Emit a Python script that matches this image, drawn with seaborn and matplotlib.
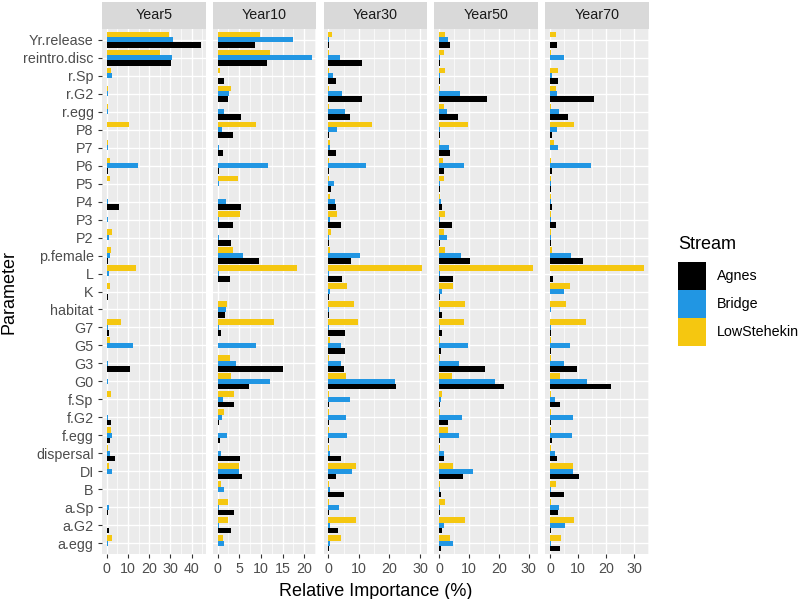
import pandas as pd
import matplotlib
matplotlib.use('Agg')
import matplotlib.pyplot as plt
from matplotlib.patches import Patch, Rectangle
from matplotlib.ticker import MultipleLocator
import seaborn as sns

# parameters, top to bottom
params = ['Yr.release', 'reintro.disc', 'r.Sp', 'r.G2', 'r.egg', 'P8', 'P7', 'P6',
          'P5', 'P4', 'P3', 'P2', 'p.female', 'L', 'K', 'habitat', 'G7', 'G5', 'G3',
          'G0', 'f.Sp', 'f.G2', 'f.egg', 'dispersal', 'DI', 'B', 'a.Sp', 'a.G2', 'a.egg']
years = ['Year5', 'Year10', 'Year30', 'Year50', 'Year70']
streams = ['Agnes', 'Bridge', 'LowStehekin']

# relative importance (%)
agnes5 = [44.4, 30.5, 0.3, 0.2, 0.2, 0.3, 0.3, 0.6, 0.2, 5.6, 0.2, 0.3, 0.8, 0.2,
          0.5, 0.2, 1.3, 0.2, 10.8, 0.2, 0.2, 1.9, 1.7, 4.0, 0.3, 0.2, 0.5, 1.3, 0.2]
bridge5 = [31.4, 30.6, 2.7, 0.5, 0.5, 0.3, 0.8, 14.6, 0.3, 0.5, 0.5, 1.1, 1.6, 1.0,
           0.2, 0.3, 0.6, 12.4, 0.5, 0.8, 0.3, 0.5, 2.5, 1.4, 2.7, 0.3, 1.0, 0.3, 0.5]
low5 = [29.4, 25.2, 1.9, 0.5, 0.5, 10.5, 0.8, 1.4, 1.6, 0.3, 0.3, 2.4, 1.9, 14.0,
        1.4, 0.3, 6.7, 1.4, 0.3, 0.3, 1.9, 0.3, 2.2, 0.5, 1.0, 0.3, 0.3, 0.3, 2.7]

agnes10 = [8.7, 11.3, 1.4, 2.5, 5.4, 3.6, 1.2, 0.3, 0.2, 5.3, 3.6, 3.0, 9.6, 2.8,
           0.2, 1.8, 0.7, 0.2, 15.0, 7.2, 3.8, 0.3, 0.6, 5.2, 5.6, 0.2, 3.8, 3.2, 0.2]
bridge10 = [17.5, 21.7, 0.2, 2.6, 1.5, 1.1, 0.3, 11.7, 0.3, 2.0, 0.3, 0.3, 5.8, 0.3,
            0.2, 2.0, 0.3, 8.8, 4.3, 12.2, 1.3, 1.0, 2.2, 0.9, 5.0, 1.6, 0.3, 0.3, 1.5]
low10 = [9.8, 12.0, 0.6, 3.0, 0.2, 8.8, 0.2, 0.2, 4.7, 0.2, 5.2, 0.2, 3.5, 18.4,
         0.2, 2.2, 13.1, 0.2, 2.9, 3.2, 3.8, 1.5, 0.2, 0.2, 4.9, 0.8, 2.5, 2.5, 1.2]

agnes30 = [0.3, 11.1, 2.4, 11.1, 7.1, 0.3, 2.4, 0.3, 1.0, 2.4, 4.2, 0.3, 7.3, 4.6,
           0.3, 0.3, 5.4, 5.5, 5.0, 22.2, 0.3, 0.3, 0.3, 4.1, 2.6, 5.1, 0.3, 3.2, 0.3]
bridge30 = [0.3, 3.9, 1.4, 4.5, 5.5, 2.7, 0.5, 12.2, 2.0, 2.3, 0.4, 0.3, 10.3, 0.3,
            0.4, 0.3, 0.3, 4.0, 4.0, 21.8, 7.1, 5.8, 6.2, 0.4, 7.6, 0.4, 3.6, 0.4, 0.4]
low30 = [1.3, 0.3, 0.3, 0.3, 0.3, 14.3, 0.5, 0.3, 0.3, 0.5, 3.0, 1.0, 0.5, 30.8,
         6.0, 8.4, 9.8, 0.7, 0.3, 5.7, 0.3, 0.3, 0.3, 0.3, 9.2, 0.3, 0.3, 9.1, 4.3]

agnes50 = [3.8, 0.3, 0.2, 16.1, 6.3, 0.2, 3.5, 1.6, 0.2, 0.8, 4.4, 0.3, 10.4, 4.6,
           0.3, 1.0, 1.0, 0.6, 15.4, 21.8, 0.3, 2.9, 0.2, 1.5, 7.9, 0.7, 0.3, 1.0, 0.6]
bridge50 = [3.1, 0.2, 0.2, 7.1, 2.8, 0.4, 3.4, 8.5, 0.3, 0.6, 0.3, 2.6, 7.5, 0.4,
            1.0, 0.3, 0.4, 9.6, 6.5, 18.7, 0.7, 7.8, 6.5, 1.7, 11.5, 0.4, 0.3, 1.8, 4.5]
low50 = [1.9, 1.5, 1.9, 0.3, 1.8, 9.8, 0.3, 1.2, 1.5, 0.2, 1.9, 1.8, 2.1, 31.6,
         4.8, 8.7, 8.4, 0.4, 0.3, 4.2, 1.1, 0.3, 3.0, 0.3, 4.5, 0.3, 2.1, 8.7, 3.5]

agnes70 = [2.6, 0.1, 3.0, 15.7, 6.3, 0.8, 0.1, 0.8, 0.2, 0.8, 2.3, 0.5, 11.7, 1.2,
           0.1, 0.1, 0.2, 0.2, 9.5, 21.7, 3.7, 0.2, 0.7, 2.6, 10.4, 4.9, 2.7, 0.2, 3.7]
bridge70 = [0.1, 5.0, 0.7, 2.6, 3.2, 2.5, 3.0, 14.8, 0.4, 0.4, 0.4, 0.5, 7.4, 0.1,
            5.0, 0.2, 0.2, 7.3, 5.0, 13.1, 1.7, 8.3, 7.7, 1.7, 8.3, 0.2, 3.3, 5.4, 0.2]
low70 = [2.0, 0.2, 3.0, 2.0, 0.2, 8.7, 1.4, 0.2, 0.2, 0.2, 0.5, 0.5, 0.6, 33.6,
         7.3, 5.6, 12.7, 0.2, 0.2, 3.7, 0.2, 0.2, 0.5, 0.2, 8.3, 2.1, 0.2, 8.6, 3.8]

values = {
    'Year5': (agnes5, bridge5, low5),
    'Year10': (agnes10, bridge10, low10),
    'Year30': (agnes30, bridge30, low30),
    'Year50': (agnes50, bridge50, low50),
    'Year70': (agnes70, bridge70, low70),
}
tick_step = {'Year5': 10, 'Year10': 5, 'Year30': 10, 'Year50': 10, 'Year70': 10}

rows = []
for yr in years:
    for st, vals in zip(streams, values[yr]):
        for p, v in zip(params, vals):
            rows.append({'Year': yr, 'Stream': st, 'Parameter': p, 'Importance': v})
df = pd.DataFrame(rows)

colors = {'Agnes': '#000000', 'Bridge': '#2196E3', 'LowStehekin': '#F5C710'}

plt.rcParams['font.family'] = ['Liberation Sans', 'DejaVu Sans']

fig, axes = plt.subplots(1, 5, figsize=(8, 5.99), dpi=100)
fig.subplots_adjust(left=0.1275, right=0.811, top=0.9516, bottom=0.0751, wspace=0.07)

n = len(params)
for ax, yr in zip(axes, years):
    sub = df[df['Year'] == yr]
    sns.barplot(data=sub, y='Parameter', x='Importance', hue='Stream',
                hue_order=['LowStehekin', 'Bridge', 'Agnes'], order=params,
                palette=colors, orient='h', width=0.9, errorbar=None,
                saturation=1, legend=False, ax=ax)
    ax.set_facecolor('#EBEBEB')
    for s in ax.spines.values():
        s.set_visible(False)
    mx = sub['Importance'].max()
    ax.set_xlim(-0.05 * mx, 1.05 * mx)
    ax.set_ylim(n - 1 + 0.6, -0.6)
    step = tick_step[yr]
    ax.xaxis.set_major_locator(MultipleLocator(step))
    ax.xaxis.set_minor_locator(MultipleLocator(step / 2))
    ax.set_axisbelow(True)
    ax.grid(True, which='major', color='white', linewidth=1.0)
    ax.grid(True, which='minor', axis='x', color='white', linewidth=0.5)
    ax.tick_params(axis='both', which='major', colors='#333333', length=3, width=0.8,
                   labelcolor='#4D4D4D', labelsize=10.3, pad=3)
    ax.tick_params(axis='x', which='minor', length=0)
    ax.set_xlabel('')
    ax.set_ylabel('')
    if ax is not axes[0]:
        ax.tick_params(axis='y', left=False, labelleft=False)
    # facet strip
    ax.add_patch(Rectangle((0, 1), 1, 27 / 525, transform=ax.transAxes,
                           facecolor='#D9D9D9', edgecolor='none', clip_on=False))
    ax.text(0.5, 1 + 13.5 / 525, yr, transform=ax.transAxes, ha='center',
            va='center', fontsize=10.3, color='#1A1A1A')

fig.text(0.469, 1 - 591 / 599, 'Relative Importance (%)', ha='center', va='center',
         fontsize=13)
fig.text(0.011, 0.513, 'Parameter', ha='center', va='center', rotation=90, fontsize=13)

# legend
fig.text(678 / 800, 1 - 245 / 599, 'Stream', ha='left', va='center', fontsize=13)
handles = [Patch(facecolor=colors[s], edgecolor='none') for s in streams]
fig.legend(handles, streams, loc='upper left',
           bbox_to_anchor=(678 / 800, 1 - 262 / 599), frameon=False,
           fontsize=10.3, handlelength=1.95, handleheight=2.64,
           labelspacing=0, handletextpad=0.75, borderpad=0, borderaxespad=0)

fig.savefig('out.png', dpi=100)
